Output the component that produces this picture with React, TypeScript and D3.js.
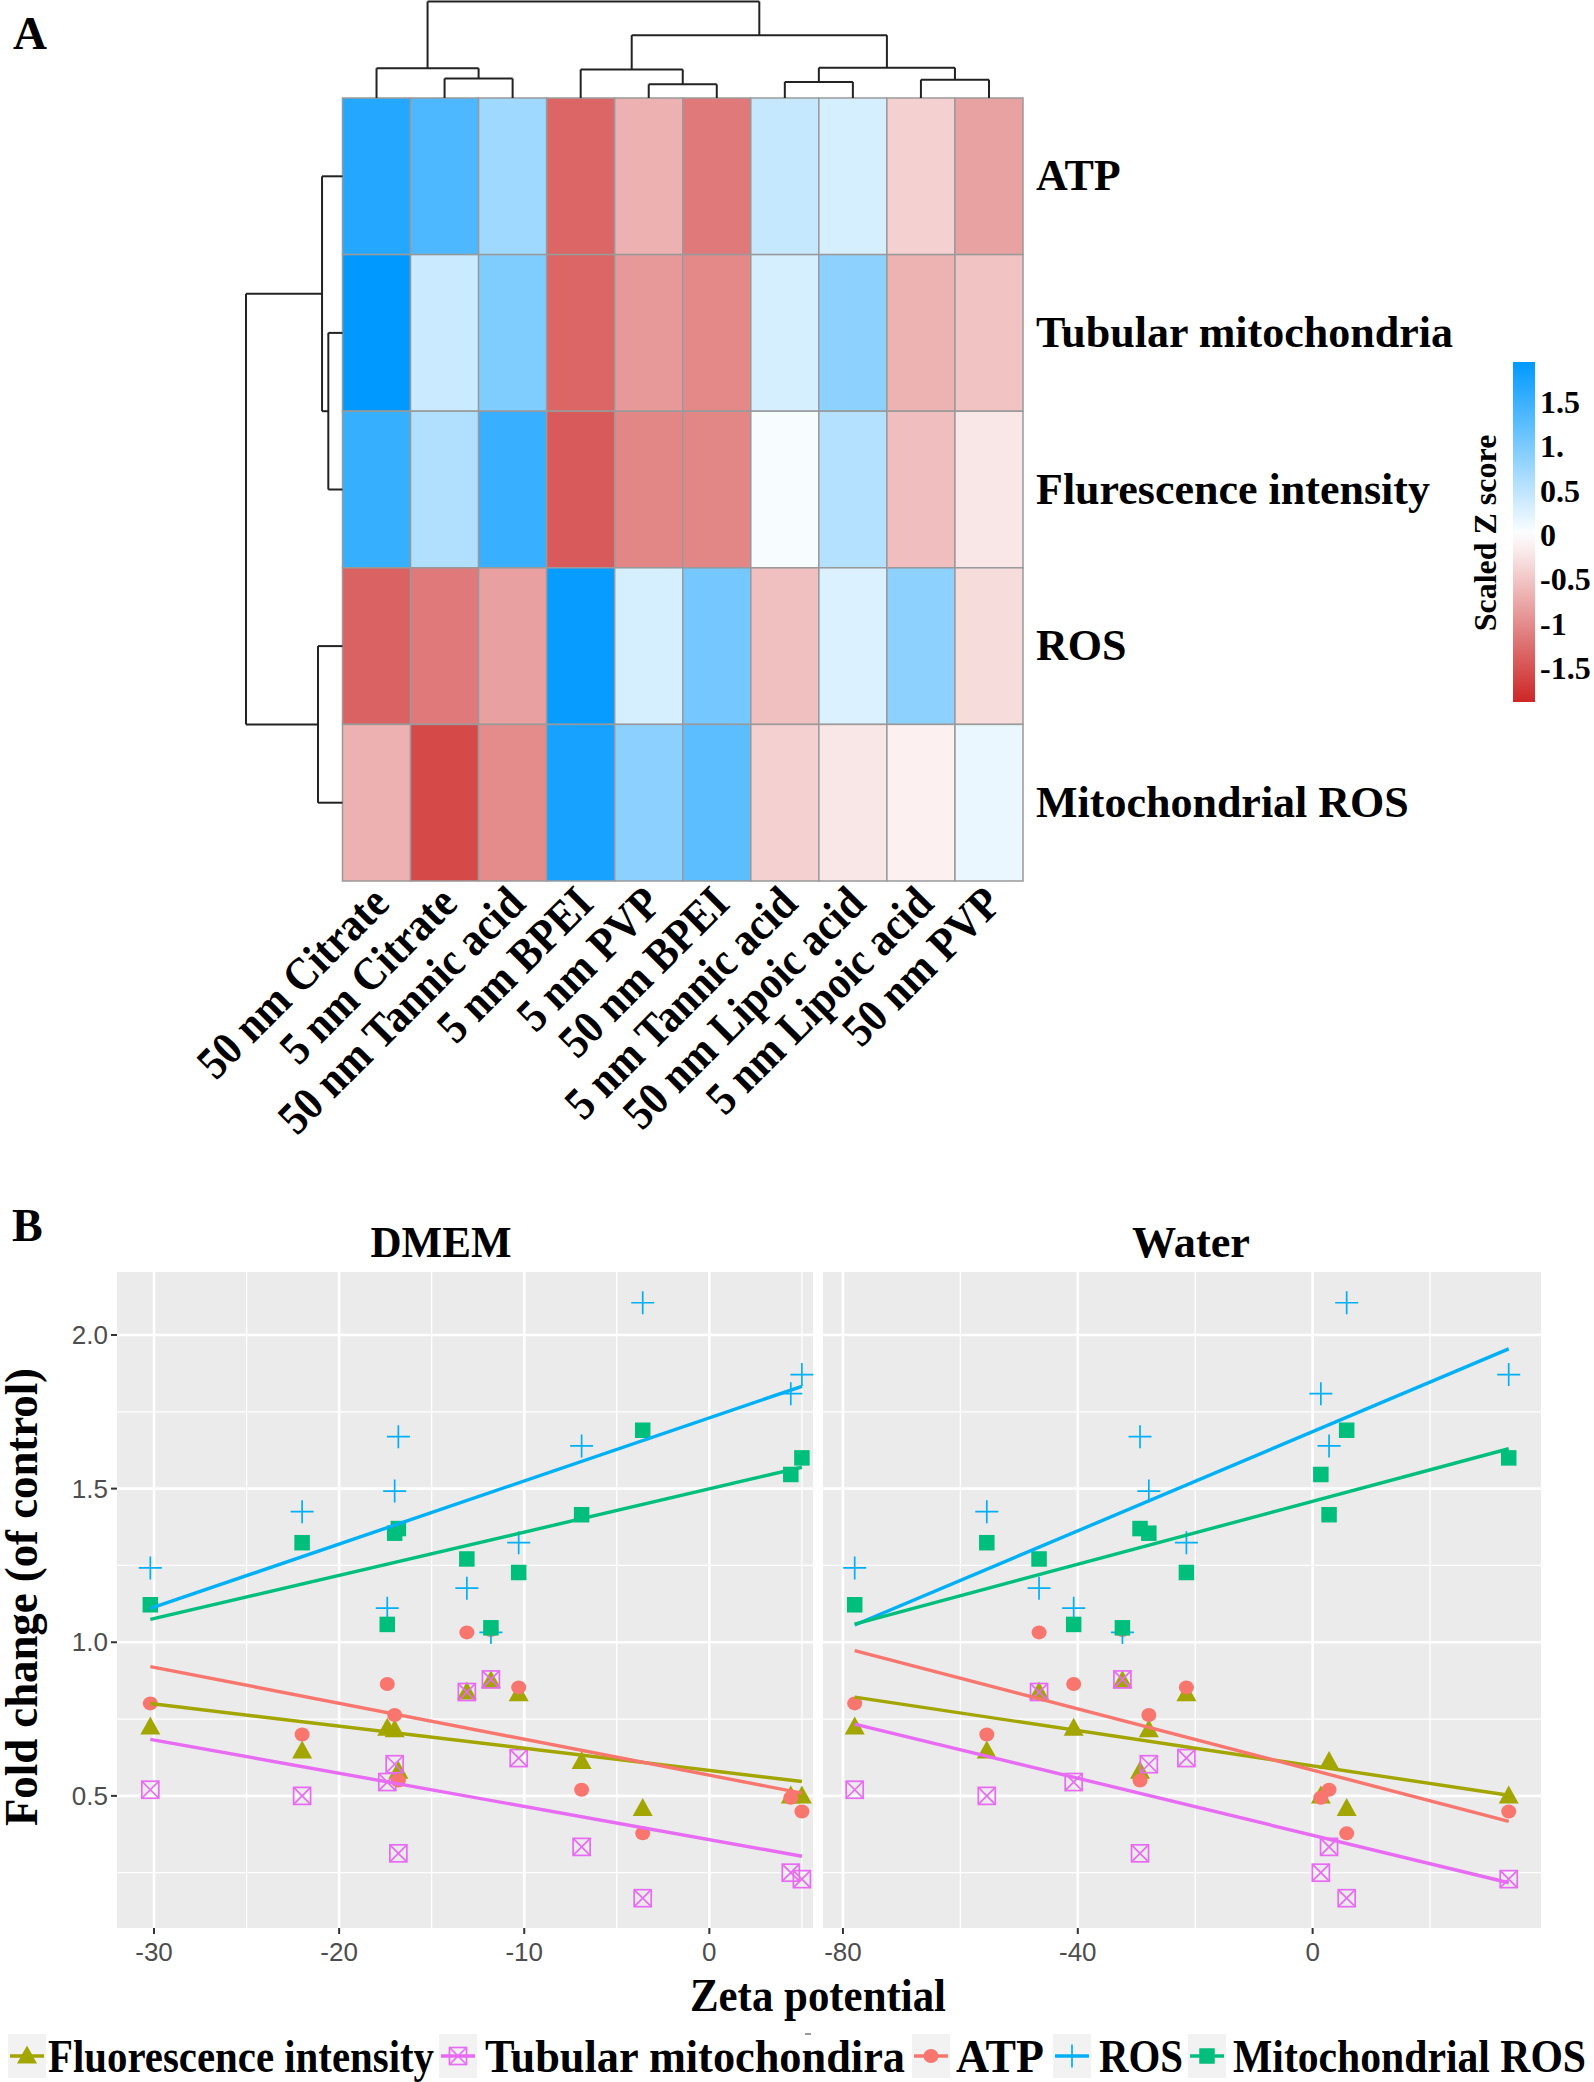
import React from 'react';
import * as d3 from 'd3';

// ---------------- Heatmap data ----------------
const heatColumns = [
  '50 nm Citrate', '5 nm Citrate', '50 nm Tannic acid', '5 nm BPEI', '5 nm PVP',
  '50 nm BPEI', '5 nm Tannic acid', '50 nm Lipoic acid', '5 nm Lipoic acid', '50 nm PVP',
];
const heatRows = ['ATP', 'Tubular mitochondria', 'Flurescence intensity', 'ROS', 'Mitochondrial ROS'];
const zATP = [1.68, 1.36, 0.73, -1.33, -0.68, -1.15, 0.44, 0.31, -0.41, -0.81];
const zTubular = [1.95, 0.41, 0.98, -1.33, -0.89, -1.03, 0.31, 0.88, -0.67, -0.52];
const zFlur = [1.53, 0.6, 1.52, -1.43, -1.05, -1.05, 0.06, 0.57, -0.56, -0.22];
const zROS = [-1.36, -1.16, -0.82, 1.9, 0.31, 1.06, -0.55, 0.27, 0.88, -0.3];
const zMitoROS = [-0.68, -1.58, -1.0, 1.77, 0.89, 1.25, -0.41, -0.22, -0.13, 0.15];
const heatValues = [zATP, zTubular, zFlur, zROS, zMitoROS];

type Tree = number | { h: number; c: [Tree, Tree] };
const colTree: Tree = {
  h: 1,
  c: [
    { h: 0.308, c: [0, { h: 0.202, c: [1, 2] }] },
    {
      h: 0.651,
      c: [
        { h: 0.296, c: [3, { h: 0.142, c: [4, 5] }] },
        { h: 0.314, c: [{ h: 0.167, c: [6, 7] }, { h: 0.19, c: [8, 9] }] },
      ],
    },
  ],
};
const rowTree: Tree = {
  h: 1,
  c: [
    { h: 0.212, c: [0, { h: 0.147, c: [1, 2] }] },
    { h: 0.254, c: [3, 4] },
  ],
};

const zDomain = [-1.88, 0, 1.95];
const zColors = ['#CD2626', '#FFFFFF', '#0099FF'];
const legendTicks = [1.5, 1, 0.5, 0, -0.5, -1, -1.5];
const legendTickLabels = ['1.5', '1.', '0.5', '0', '-0.5', '-1', '-1.5'];

// ---------------- Scatter data ----------------
const seriesNames = ['Fluorescence intensity', 'Tubular mitochondira', 'ATP', 'ROS', 'Mitochondrial ROS'];
const seriesColors = ['#A3A500', '#E76BF3', '#F8766D', '#00B0F6', '#00BF7D'];
const seriesShapes = ['triangle', 'boxx', 'circle', 'plus', 'square'];
const zetaDMEM = [-30.2, -22.0, -17.4, -17.0, -16.8, -13.1, -11.8, -10.3, -6.9, -3.6, 4.4, 5.0];
const zetaWater = [-78.0, -55.5, -40.7, -27.9, -29.4, -46.6, -32.4, -21.5, 2.8, 5.8, 1.4, 33.4];
const fluorescence = [0.724, 0.646, 0.72, 0.715, 0.58, 0.838, 0.875, 0.832, 0.612, 0.459, 0.5, 0.5];
const tubular = [0.52, 0.5, 0.545, 0.603, 0.313, 0.838, 0.879, 0.623, 0.334, 0.167, 0.25, 0.229];
const atp = [0.801, 0.7, 0.864, 0.763, 0.55, 1.032, 1.04, 0.853, 0.52, 0.378, 0.494, 0.449];
const ros = [1.242, 1.425, 1.111, 1.492, 1.669, 1.176, 1.032, 1.324, 1.639, 2.105, 1.809, 1.871];
const mitoRos = [1.122, 1.324, 1.058, 1.355, 1.37, 1.271, 1.047, 1.227, 1.415, 1.69, 1.546, 1.6];
const seriesValues = [fluorescence, tubular, atp, ros, mitoRos];

const yTicks = [0.5, 1.0, 1.5, 2.0];
const yMinor = [0.25, 0.75, 1.25, 1.75];
const dmemTicks = [-30, -20, -10, 0];
const dmemMinor = [-25, -15, -5, 5];
const waterTicks = [-80, -40, 0];
const waterMinor = [-60, -20, 20];

const SERIF = "'Liberation Serif', 'Times New Roman', serif";
const SANS = "'Liberation Sans', Arial, sans-serif";

function treeSegs(t: Tree, pos: (i: number) => number) {
  const segs: [number, number, number, number][] = [];
  const walk = (n: Tree): { p: number; h: number } => {
    if (typeof n === 'number') return { p: pos(n), h: 0 };
    const a = walk(n.c[0]);
    const b = walk(n.c[1]);
    segs.push([a.p, a.h, a.p, n.h]);
    segs.push([b.p, b.h, b.p, n.h]);
    segs.push([a.p, n.h, b.p, n.h]);
    return { p: (a.p + b.p) / 2, h: n.h };
  };
  walk(t);
  return segs;
}

function linReg(xs: number[], ys: number[]) {
  const mx = d3.mean(xs)!;
  const my = d3.mean(ys)!;
  let sxy = 0, sxx = 0;
  xs.forEach((x, i) => { sxy += (x - mx) * (ys[i] - my); sxx += (x - mx) * (x - mx); });
  const slope = sxy / sxx;
  return { slope, intercept: my - slope * mx };
}

function Marker({ shape, x, y, color }: { shape: string; x: number; y: number; color: string }) {
  if (shape === 'triangle') {
    return <path d={`M${x},${y - 10.5}L${x + 10},${y + 7.5}L${x - 10},${y + 7.5}Z`} fill={color} />;
  }
  if (shape === 'boxx') {
    const h = 8.5;
    return (
      <g stroke={color} strokeWidth={1.7} fill="none">
        <rect x={x - h} y={y - h} width={2 * h} height={2 * h} />
        <path d={`M${x - h},${y - h}L${x + h},${y + h}M${x + h},${y - h}L${x - h},${y + h}`} />
      </g>
    );
  }
  if (shape === 'circle') return <ellipse cx={x} cy={y} rx={7.5} ry={7} fill={color} />;
  if (shape === 'plus') {
    const p = 11.5;
    return <path d={`M${x - p},${y}L${x + p},${y}M${x},${y - p}L${x},${y + p}`} stroke={color} strokeWidth={1.7} />;
  }
  return <rect x={x - 7.75} y={y - 7.75} width={15.5} height={15.5} fill={color} />;
}

export default function App() {
  // ---------- Heatmap geometry ----------
  const hmL = 342.5, hmR = 1023, hmT = 98, hmB = 881;
  const xBand = d3.scaleBand<number>().domain(d3.range(heatColumns.length)).range([hmL, hmR]);
  const yBand = d3.scaleBand<number>().domain(d3.range(heatRows.length)).range([hmT, hmB]);
  const color = d3.scaleLinear<string>().domain(zDomain).range(zColors).interpolate(d3.interpolateRgb);
  const colDendroY = d3.scaleLinear().domain([0, 1]).range([hmT, 1.5]);
  const rowDendroX = d3.scaleLinear().domain([0, 1]).range([hmL, 246]);
  const colSegs = treeSegs(colTree, (i) => xBand(i)! + xBand.bandwidth() / 2);
  const rowSegs = treeSegs(rowTree, (i) => yBand(i)! + yBand.bandwidth() / 2);
  const legY = d3.scaleLinear().domain([zDomain[0], zDomain[2]]).range([702, 362]);
  const gradStops = d3.range(0, 1.0001, 0.05).map((t) => {
    const v = zDomain[0] + t * (zDomain[2] - zDomain[0]);
    return { off: t, c: color(v) };
  });

  // ---------- Scatter geometry ----------
  const yScale = d3.scaleLinear().domain([0.07, 2.205]).range([1928, 1272]);
  const panels = [
    { title: 'DMEM', zeta: zetaDMEM, x: d3.scaleLinear().domain([-32, 5.6]).range([117, 813]), ticks: dmemTicks, minor: dmemMinor, titleX: 441 },
    { title: 'Water', zeta: zetaWater, x: d3.scaleLinear().domain([-83.4, 38.9]).range([823, 1541]), ticks: waterTicks, minor: waterMinor, titleX: 1191 },
  ];

  // ---------- Bottom legend layout ----------
  const legKeyX = [8, 439, 912, 1053, 1188];
  const legTextX = [48, 485, 956, 1099, 1233];
  const legTextW = [386, 420, 88, 84, 353];

  return (
    <svg width={1594} height={2082} style={{ position: 'absolute', left: 0, top: 0, background: '#fff' }}>
      <rect x={0} y={0} width={1594} height={2082} fill="#fff" />
      {/* ================= Panel A ================= */}
      <text x={13} y={49} fontFamily={SERIF} fontWeight="bold" fontSize={47}>A</text>
      {heatValues.map((row, r) =>
        row.map((v, c) => (
          <rect key={`c${r}-${c}`} x={xBand(c)} y={yBand(r)} width={xBand.bandwidth()} height={yBand.bandwidth()}
            fill={color(v)} stroke="#9A9A9A" strokeWidth={1.5} />
        ))
      )}
      <g stroke="#222" strokeWidth={2} fill="none">
        {colSegs.map((s, i) => (
          <line key={`cs${i}`} x1={s[0]} y1={colDendroY(s[1])} x2={s[2]} y2={colDendroY(s[3])} />
        ))}
        {rowSegs.map((s, i) => (
          <line key={`rs${i}`} x1={rowDendroX(s[1])} y1={s[0]} x2={rowDendroX(s[3])} y2={s[2]} />
        ))}
      </g>
      {heatRows.map((name, r) => (
        <text key={name} x={1036} y={yBand(r)! + yBand.bandwidth() / 2 + 14} fontFamily={SERIF} fontWeight="bold" fontSize={44}>{name}</text>
      ))}
      {heatColumns.map((name, c) => (
        <text key={name} transform={`translate(${xBand(c)! + xBand.bandwidth() / 2 + 4},${hmB + 14}) rotate(-45) scale(0.95,1.05)`}
          textAnchor="end" dominantBaseline="central" fontFamily={SERIF} fontWeight="bold" fontSize={44}>{name}</text>
      ))}
      {/* colour legend */}
      <defs>
        <linearGradient id="zgrad" x1="0" y1="1" x2="0" y2="0">
          {gradStops.map((s, i) => (
            <stop key={i} offset={s.off} stopColor={s.c} />
          ))}
        </linearGradient>
      </defs>
      <rect x={1513} y={362} width={22} height={340} fill="url(#zgrad)" />
      {legendTicks.map((t, i) => (
        <text key={t} x={1540} y={legY(t)} dominantBaseline="central" fontFamily={SERIF} fontWeight="bold" fontSize={32}>{legendTickLabels[i]}</text>
      ))}
      <text transform="translate(1485,533) rotate(-90)" textAnchor="middle" dominantBaseline="central" fontFamily={SERIF} fontWeight="bold" fontSize={32}>Scaled Z score</text>

      {/* ================= Panel B ================= */}
      <text x={12} y={1241} fontFamily={SERIF} fontWeight="bold" fontSize={46}>B</text>
      {panels.map((p) => {
        const [x0, x1] = p.x.range();
        return (
          <g key={p.title}>
            <text x={p.titleX} y={1257} textAnchor="middle" fontFamily={SERIF} fontWeight="bold" fontSize={45}
              textLength={p.title === 'DMEM' ? 141 : 118} lengthAdjust="spacingAndGlyphs">{p.title}</text>
            <rect x={x0} y={1272} width={x1 - x0} height={1928 - 1272} fill="#EBEBEB" />
            <g stroke="#fff" strokeWidth={1.3}>
              {yMinor.map((v) => (
                <line key={`ym${v}`} x1={x0} x2={x1} y1={yScale(v)} y2={yScale(v)} />
              ))}
              {p.minor.map((v) => (
                <line key={`xm${v}`} x1={p.x(v)} x2={p.x(v)} y1={1272} y2={1928} />
              ))}
            </g>
            <g stroke="#fff" strokeWidth={2.6}>
              {yTicks.map((v) => (
                <line key={`yM${v}`} x1={x0} x2={x1} y1={yScale(v)} y2={yScale(v)} />
              ))}
              {p.ticks.map((v) => (
                <line key={`xM${v}`} x1={p.x(v)} x2={p.x(v)} y1={1272} y2={1928} />
              ))}
            </g>
            {/* x ticks */}
            {p.ticks.map((v) => (
              <g key={`xt${v}`}>
                <line x1={p.x(v)} x2={p.x(v)} y1={1928} y2={1934} stroke="#333" strokeWidth={2} />
                <text x={p.x(v)} y={1961} textAnchor="middle" fontFamily={SANS} fontSize={26} fill="#4D4D4D">{v}</text>
              </g>
            ))}
            {/* points */}
            {seriesValues.map((vals, s) =>
              vals.map((v, i) => (
                <Marker key={`p${s}-${i}`} shape={seriesShapes[s]} x={p.x(p.zeta[i])} y={yScale(v)} color={seriesColors[s]} />
              ))
            )}
            {/* regression lines */}
            {seriesValues.map((vals, s) => {
              const { slope, intercept } = linReg(p.zeta, vals);
              const [mn, mx] = d3.extent(p.zeta) as [number, number];
              return (
                <line key={`l${s}`} x1={p.x(mn)} y1={yScale(intercept + slope * mn)} x2={p.x(mx)} y2={yScale(intercept + slope * mx)}
                  stroke={seriesColors[s]} strokeWidth={3.4} />
              );
            })}
          </g>
        );
      })}
      {/* y axis */}
      {yTicks.map((v) => (
        <g key={`yt${v}`}>
          <line x1={111} x2={117} y1={yScale(v)} y2={yScale(v)} stroke="#333" strokeWidth={2} />
          <text x={108} y={yScale(v) + 9} textAnchor="end" fontFamily={SANS} fontSize={26} fill="#4D4D4D">{v.toFixed(1)}</text>
        </g>
      ))}
      <text transform="translate(37,1597) rotate(-90)" textAnchor="middle" fontFamily={SERIF} fontWeight="bold" fontSize={46}
        textLength={458} lengthAdjust="spacingAndGlyphs">Fold change (of control)</text>
      <text x={690} y={2011} fontFamily={SERIF} fontWeight="bold" fontSize={47} textLength={256} lengthAdjust="spacingAndGlyphs">Zeta potential</text>
      <line x1={805} x2={811} y1={2034} y2={2034} stroke="#777" strokeWidth={1.5} />
      {/* legend */}
      {seriesNames.map((name, i) => (
        <g key={name}>
          <rect x={legKeyX[i]} y={2034} width={38} height={44} fill="#F2F2F2" />
          <line x1={legKeyX[i] + 2} x2={legKeyX[i] + 36} y1={2056} y2={2056} stroke={seriesColors[i]} strokeWidth={3.4} />
          <Marker shape={seriesShapes[i]} x={legKeyX[i] + 19} y={2056} color={seriesColors[i]} />
          <text x={legTextX[i]} y={2072} fontFamily={SERIF} fontWeight="bold" fontSize={47}
            textLength={legTextW[i]} lengthAdjust="spacingAndGlyphs">{name}</text>
        </g>
      ))}
    </svg>
  );
}
